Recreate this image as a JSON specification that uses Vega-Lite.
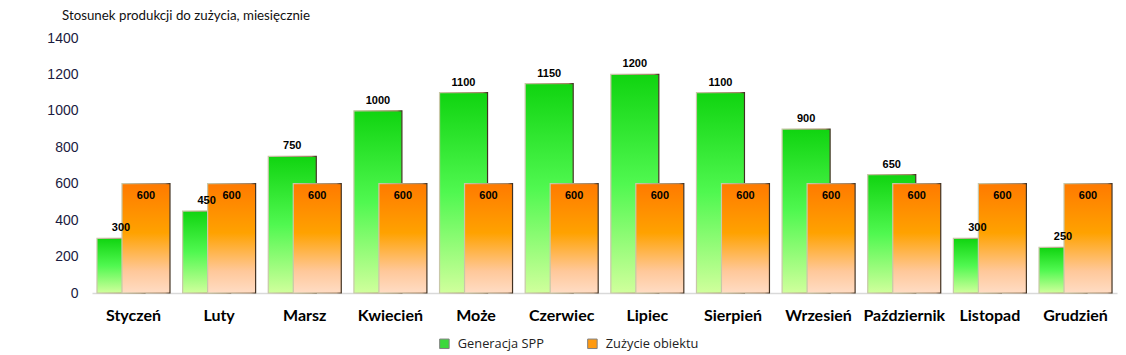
{
  "$schema": "https://vega.github.io/schema/vega-lite/v6.json",
  "autosize": "none",
  "width": 1025,
  "height": 255,
  "padding": {"left": 92, "top": 38, "right": 9, "bottom": 62},
  "background": "white",
  "title": {"text": "Stosunek produkcji do zużycia, miesięcznie", "anchor": "start", "frame": "group", "dx": -30, "offset": 9, "font": "Lato", "fontSize": 13.3, "fontWeight": "normal", "color": "#111111"},
  "config": {"view": {"stroke": null}},
  "data": {"values": [
    {"miesiac": "Styczeń", "seria": "Generacja SPP", "wartosc": 300},
    {"miesiac": "Luty", "seria": "Generacja SPP", "wartosc": 450},
    {"miesiac": "Marsz", "seria": "Generacja SPP", "wartosc": 750},
    {"miesiac": "Kwiecień", "seria": "Generacja SPP", "wartosc": 1000},
    {"miesiac": "Może", "seria": "Generacja SPP", "wartosc": 1100},
    {"miesiac": "Czerwiec", "seria": "Generacja SPP", "wartosc": 1150},
    {"miesiac": "Lipiec", "seria": "Generacja SPP", "wartosc": 1200},
    {"miesiac": "Sierpień", "seria": "Generacja SPP", "wartosc": 1100},
    {"miesiac": "Wrzesień", "seria": "Generacja SPP", "wartosc": 900},
    {"miesiac": "Październik", "seria": "Generacja SPP", "wartosc": 650},
    {"miesiac": "Listopad", "seria": "Generacja SPP", "wartosc": 300},
    {"miesiac": "Grudzień", "seria": "Generacja SPP", "wartosc": 250},
    {"miesiac": "Styczeń", "seria": "Zużycie obiektu", "wartosc": 600},
    {"miesiac": "Luty", "seria": "Zużycie obiektu", "wartosc": 600},
    {"miesiac": "Marsz", "seria": "Zużycie obiektu", "wartosc": 600},
    {"miesiac": "Kwiecień", "seria": "Zużycie obiektu", "wartosc": 600},
    {"miesiac": "Może", "seria": "Zużycie obiektu", "wartosc": 600},
    {"miesiac": "Czerwiec", "seria": "Zużycie obiektu", "wartosc": 600},
    {"miesiac": "Lipiec", "seria": "Zużycie obiektu", "wartosc": 600},
    {"miesiac": "Sierpień", "seria": "Zużycie obiektu", "wartosc": 600},
    {"miesiac": "Wrzesień", "seria": "Zużycie obiektu", "wartosc": 600},
    {"miesiac": "Październik", "seria": "Zużycie obiektu", "wartosc": 600},
    {"miesiac": "Listopad", "seria": "Zużycie obiektu", "wartosc": 600},
    {"miesiac": "Grudzień", "seria": "Zużycie obiektu", "wartosc": 600}
  ]},
  "encoding": {
    "x": {"field": "miesiac", "type": "nominal", "sort": null,
      "scale": {"paddingInner": 0.4164, "paddingOuter": 0.1926},
      "axis": {"title": null, "labelAngle": 0, "ticks": false, "domainColor": "#d9d9d9", "domainWidth": 1.5, "labelPadding": 14, "labelFont": "Lato", "labelFontWeight": "bold", "labelFontSize": 16, "labelColor": "#000000"}},
    "xOffset": {"field": "seria", "type": "nominal", "sort": ["Generacja SPP", "Zużycie obiektu"], "scale": {"paddingInner": 0, "paddingOuter": 0}},
    "y": {"field": "wartosc", "type": "quantitative",
      "scale": {"domain": [0, 1400], "nice": false},
      "axis": {"title": null, "format": "d", "values": [0, 200, 400, 600, 800, 1000, 1200, 1400], "grid": false, "domain": false, "ticks": false, "labelPadding": 14, "labelFont": "Liberation Sans", "labelFontSize": 14, "labelColor": "#1a1a40"}}
  },
  "layer": [
    {
      "mark": {"type": "bar", "width": 48, "strokeWidth": 1.2,
        "stroke": {"gradient": "linear", "x1": 0, "y1": 0, "x2": 1, "y2": 0, "stops": [{"offset": 0, "color": "#c8c8a8"}, {"offset": 0.9, "color": "#a08060"}, {"offset": 1, "color": "#403020"}]}},
      "encoding": {
        "fill": {"condition": {"test": "datum.seria == 'Generacja SPP'",
          "value": {"gradient": "linear", "x1": 0, "y1": 0, "x2": 0, "y2": 1, "stops": [{"offset": 0, "color": "#10d410"}, {"offset": 0.5, "color": "#50f850"}, {"offset": 1, "color": "#d0ff9c"}]}},
          "value": {"gradient": "linear", "x1": 0, "y1": 0, "x2": 0, "y2": 1, "stops": [{"offset": 0, "color": "#ff7a00"}, {"offset": 0.45, "color": "#ffa200"}, {"offset": 0.8, "color": "#ffc89a"}, {"offset": 1, "color": "#ffdcc4"}]}}
      }
    },
    {
      "transform": [{"filter": "false"}],
      "mark": {"type": "square"},
      "encoding": {
        "xOffset": null,
        "color": {"field": "seria", "type": "nominal",
          "scale": {"domain": ["Generacja SPP", "Zużycie obiektu"], "range": ["#3cd83c", "#ff9a10"]},
          "legend": {"title": null, "orient": "none", "direction": "horizontal", "legendX": 346, "legendY": 299, "symbolType": "square", "symbolSize": 90, "symbolStrokeColor": "#808080", "symbolStrokeWidth": 1, "symbolOpacity": 1, "labelFont": "Open Sans", "labelFontSize": 12.8, "labelColor": "#222222", "columnPadding": 41, "labelOffset": 7}}
      }
    },
    {
      "transform": [{"filter": "datum.seria == 'Generacja SPP'"}],
      "mark": {"type": "text", "baseline": "bottom", "dy": -5, "font": "Liberation Sans", "fontWeight": "bold", "fontSize": 11, "color": "#000000"},
      "encoding": {"text": {"field": "wartosc", "type": "quantitative"}}
    },
    {
      "transform": [{"filter": "datum.seria == 'Zużycie obiektu'"}],
      "mark": {"type": "text", "baseline": "top", "dy": 6, "font": "Liberation Sans", "fontWeight": "bold", "fontSize": 11, "color": "#000000"},
      "encoding": {"text": {"field": "wartosc", "type": "quantitative"}}
    }
  ]
}
